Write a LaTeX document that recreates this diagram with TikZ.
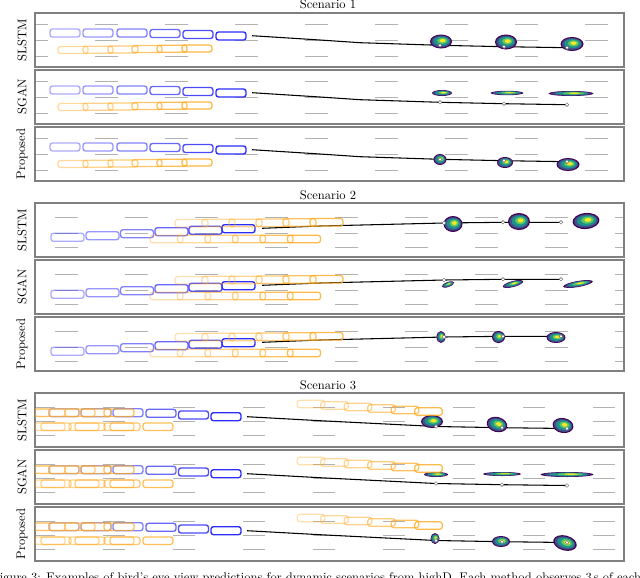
\documentclass[tikz,border=0pt]{standalone}
\usetikzlibrary{positioning}
\definecolor{egoblue}{RGB}{45,45,250}
\definecolor{othorange}{RGB}{255,168,30}
\definecolor{vira}{HTML}{440154}
\definecolor{virb}{HTML}{3B528B}
\definecolor{virc}{HTML}{21918C}
\definecolor{vird}{HTML}{5EC962}
\definecolor{vire}{HTML}{FDE725}
% heat blob: x, y, x radius, y radius, angle
\newcommand{\heat}[5]{%
\begin{scope}[shift={(#1,#2)},rotate=#5]
\fill[vira] (0,0) ellipse [x radius=#3, y radius=#4];
\fill[virb] (0,0) ellipse [x radius={0.88*#3}, y radius={0.84*#4}];
\fill[virc] ({0.05*#3},{-0.05*#4}) ellipse [x radius={0.72*#3}, y radius={0.66*#4}];
\fill[vird] ({0.12*#3},{-0.1*#4}) ellipse [x radius={0.48*#3}, y radius={0.44*#4}];
\fill[vire] ({0.15*#3},{-0.12*#4}) ellipse [x radius={0.26*#3}, y radius={0.24*#4}];
\end{scope}}
% vehicle box: style, x, y, width, height, opacity
\newcommand{\veh}[6]{%
\draw[#1,draw opacity=#6] ({#2-#4/2},{#3-#5/2}) rectangle ({#2+#4/2},{#3+#5/2});}
\begin{document}
\begin{tikzpicture}[x=0.8pt,y=-0.8pt]
% Styles
\tikzstyle{frame}=[draw=black!50, line width=0.9pt]
\tikzstyle{lane}=[draw=black!30, line width=0.7pt]
\tikzstyle{ego}=[draw=egoblue, line width=1.1pt, rounded corners=2pt]
\tikzstyle{other}=[draw=othorange, line width=1pt, rounded corners=2pt]
\tikzstyle{truth}=[draw=black, line width=0.85pt]
\tikzstyle{gt}=[fill=white, draw=black!60, line width=0.3pt]
\tikzstyle{method}=[rotate=90, inner sep=0pt]

\useasboundingbox (0,0) rectangle (640,577);
\clip (0,0) rectangle (640,577);

% ---------- Scenario 1 ----------
\node (sc1) at (328,4) {Scenario 1};
\foreach \t/\m in {13/SLSTM,70/SGAN,127/Proposed} {
\begin{scope}
\clip (35,\t) rectangle (624,\t+54);
\foreach \r in {11,27,43}
\foreach \x in {25,95,...,585} {
\draw[lane] (\x,\t+\r) -- ++(23,0);
}
\draw[truth] (252,\t+22.7) -- (320,\t+27) -- (360,\t+29.7) -- (440,\t+32.3) -- (504,\t+33.7) -- (567,\t+34.7);
\end{scope}
\draw[frame] (35,\t) rectangle (624,\t+54);
\node[method] (m1-\t) at (22,\t+27) {\m};
}
% predictions
\heat{441}{41.5}{11}{7}{0} \heat{506}{42}{11}{7.5}{0} \heat{572}{44}{11.5}{7}{0}
\heat{442}{93}{10}{3}{0} \heat{507}{93}{16.5}{2.2}{0} \heat{571}{93.5}{22.5}{2.5}{0}
\heat{440}{159.5}{6.5}{5.5}{0} \heat{505}{162.5}{8}{5.5}{0} \heat{568}{164.5}{11.5}{6.5}{0}
\foreach \t in {13,70,127} {
\foreach \x/\y in {440/32.3,504/33.7,567/34.7} {
\draw[gt] (\x,\t+\y) circle [radius=1.8];
}
\foreach \x/\y/\o in {65/20/.4,98/20/.5,132/20/.6,165/20.5/.72,198/21.5/.86,231/23/1} {
\veh{ego}{\x}{\t+\y}{30}{8}{\o}
}
\foreach \x/\y/\o in {73/37/.45,98/36.7/.52,123/36.4/.6,147/36.1/.68,172/35.8/.76,197/35.5/.85} {
\veh{other}{\x}{\t+\y}{30}{7}{\o}
}
}

% ---------- Scenario 2 ----------
\node (sc2) at (328,195) {Scenario 2};
\foreach \t/\m in {203/SLSTM,260/SGAN,317/Proposed} {
\begin{scope}
\clip (35,\t) rectangle (624,\t+54);
\foreach \r in {14,30,44}
\foreach \x in {-15,55,...,615} {
\draw[lane] (\x,\t+\r) -- ++(23,0);
}
\draw[truth] (262,\t+25.3) -- (320,\t+23) -- (444,\t+20) -- (503,\t+19.3) -- (561,\t+19.3);
\end{scope}
\draw[frame] (35,\t) rectangle (624,\t+54);
\node[method] (m2-\t) at (22,\t+27) {\m};
}
% predictions
\heat{453}{224}{9.5}{8}{0} \heat{519}{221.5}{11}{8.5}{0} \heat{586}{221}{13.5}{8}{5}
\heat{448}{284.5}{6.5}{2.5}{20} \heat{513}{284}{10.5}{3}{15} \heat{578}{284}{15}{3}{10}
\heat{441}{337}{4.5}{6}{0} \heat{498.5}{337}{6.5}{6}{0} \heat{556}{337.5}{9.5}{5.5}{0}
\foreach \t in {203,260,317} {
\foreach \x/\y in {444/20,503/19.3,561/19.3} {
\draw[gt] (\x,\t+\y) circle [radius=1.8];
}
\foreach \x/\y/\o in {67.5/34.3/.4,102.5/32.7/.5,137/30.7/.6,171.5/28.7/.72,205.5/27.3/.86,238.5/25.7/1} {
\veh{ego}{\x}{\t+\y}{33}{8}{\o}
}
\foreach \x/\y/\o in {191.5/20.3/.35,218.5/20.1/.43,245.5/19.9/.51,272.5/19.7/.6,299.5/19.5/.7,326.5/19.3/.8} {
\veh{other}{\x}{\t+\y}{33}{7.5}{\o}
}
\foreach \x/\o in {166.5/.35,194/.43,221.5/.51,249/.6,276.5/.7,304/.8} {
\veh{other}{\x}{\t+36}{33}{7.5}{\o}
}
}

% ---------- Scenario 3 ----------
\node (sc3) at (328,385) {Scenario 3};
\foreach \t/\m in {393/SLSTM,450/SGAN,507/Proposed} {
\begin{scope}
\clip (35,\t) rectangle (624,\t+54);
\foreach \r in {14,28,42}
\foreach \x in {33,103,...,593} {
\draw[lane] (\x,\t+\r) -- ++(22,0);
}
\draw[truth] (247,\t+23.7) -- (320,\t+27.7) -- (436,\t+33.5) -- (502,\t+34.7) -- (567,\t+35.5);
\end{scope}
\draw[frame] (35,\t) rectangle (624,\t+54);
\node[method] (m3-\t) at (22,\t+27) {\m};
}
% predictions
\heat{432}{421.5}{11}{6.5}{0} \heat{497}{424.5}{10.5}{7.5}{-15} \heat{563}{425.5}{10.5}{7.5}{-10}
\heat{436}{474.5}{12}{2.5}{0} \heat{502}{474}{19}{2}{0} \heat{567}{474.5}{26.5}{2.5}{0}
\heat{435}{538.5}{4.5}{5.5}{0} \heat{501}{541.5}{9}{5.5}{0} \heat{565}{543}{12}{7.5}{-15}
\foreach \t in {393,450,507} {
\foreach \x/\y in {436/33.5,502/34.7,567/35.5} {
\draw[gt] (\x,\t+\y) circle [radius=1.8];
}
\begin{scope}
\clip (35,\t) rectangle (624,\t+54);
\foreach \x/\y/\o in {64/19.7/.4,96/19.7/.5,128/19.7/.6,161/20.3/.72,193.5/22/.86,226/23.7/1} {
\veh{ego}{\x}{\t+\y}{30}{8}{\o}
}
\foreach \x/\o in {35/.45,50/.5,64/.55,80/.6,96/.65,119/.75} {
\veh{other}{\x}{\t+19.7}{30}{7.5}{\o}
}
\foreach \x/\o in {50/.45,56/.55,84/.5,90/.6,119/.55,125/.65,158/.75} {
\veh{other}{\x}{\t+33.7}{30}{7.5}{\o}
}
\foreach \x/\y/\o in {311/11/.35,334.5/12.5/.43,358/14/.51,381.5/15.5/.6,405/17/.7,428.5/18.5/.8} {
\veh{other}{\x}{\t+\y}{27.5}{7.5}{\o}
}
\end{scope}
}

% caption (cut by the page)
\node[anchor=base west, inner sep=0pt] (cap) at (-8.5,581) {Figure 3: Examples of bird's eye view predictions for dynamic scenarios from highD. Each method observes 3\,s of each re};

\end{tikzpicture}
\end{document}
